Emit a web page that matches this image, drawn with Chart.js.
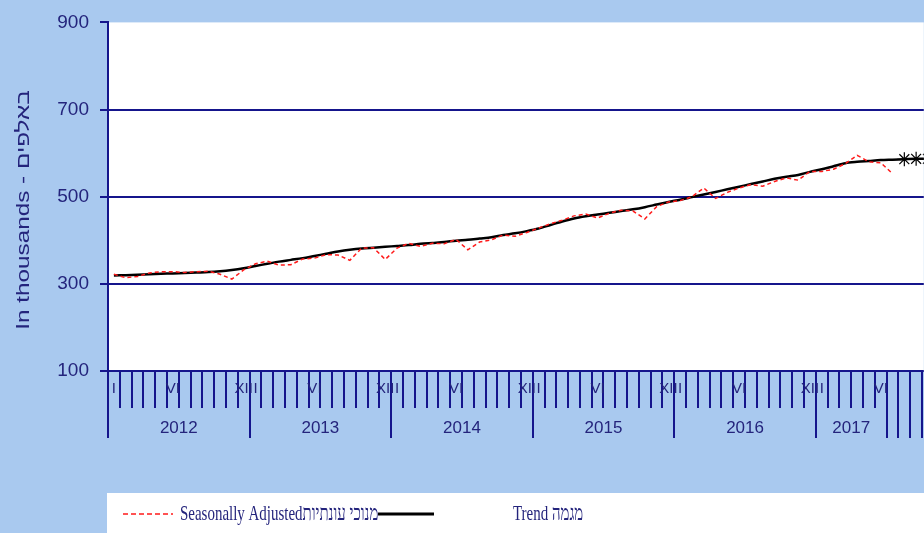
<!DOCTYPE html>
<html>
<head>
<meta charset="utf-8">
<script src="https://cdn.jsdelivr.net/npm/chart.js@4.4.1/dist/chart.umd.min.js"></script>
<style>
  html, body { margin: 0; padding: 0; background: #a9c9ef; overflow: hidden; }
  #wrap { position: relative; width: 924px; height: 533px; overflow: hidden; }
</style>
</head>
<body>
<!-- canvas is a little wider than the window: the star markers reserve 8px on the right -->
<div id="wrap"><canvas id="chart" width="932" height="533"></canvas></div>
<script>
// axis / label data
const years = [2012, 2013, 2014, 2015, 2016, 2017];
const monthsOnAxis = 66;          // Jan 2012 - Jun 2017 carry year labels
const visibleMonths = 69.15;      // the picture is cut off at the right
const monthLabelSlots = [0, 5, 11];
const monthLabels = ["I", "VI", "XII"];
const yTicks = [100, 300, 500, 700, 900];
const yTitle = "In thousands - באלפים";
const legendSeasonal = "Seasonally Adjustedמנוכי עונתיות";
const legendTrend = "Trend מגמה";

// monthly series, Jan 2012 onwards (thousands)
const seasonallyAdjusted = [
  322, 314, 317, 325, 328, 328, 326, 328, 329, 322, 311, 332,
  346, 352, 343, 344, 357, 359, 367, 366, 354, 382, 383, 356,
  382, 393, 386, 393, 392, 402, 378, 396, 401, 412, 409, 418,
  428, 438, 446, 456, 460, 451, 462, 469, 467, 449, 477, 488,
  491, 500, 520, 496, 510, 520, 528, 524, 535, 543, 538, 558,
  558, 563, 576, 595, 580, 578, 553
];
const trend = [
  319, 320, 321, 322, 323, 324, 325, 326, 327, 329, 332, 336,
  341, 346, 351, 355, 359, 364, 369, 374, 378, 381, 383, 385,
  387, 389, 392, 394, 396, 399, 401, 404, 407, 412, 416, 421,
  427, 435, 443, 450, 455, 459, 463, 467, 471, 476, 482, 488,
  493, 499, 505, 511, 517, 523, 529, 535, 541, 546, 550, 557,
  563, 570, 577, 580, 582, 584, 585
];
// trend months drawn with star markers
const trendExtension = [586, 587, 587];

const NAVY = "#15158c";
const TEXT = "#24247c";
const RED = "#ff1a1a";

function toPoints(values) {
  return values.map((v, i) => ({ x: i + 0.5, y: v }));
}

const plotBackground = {
  id: "plotBackground",
  beforeDraw(chart) {
    const { ctx, chartArea: a } = chart;
    ctx.save();
    ctx.fillStyle = "#ffffff";
    ctx.fillRect(a.left, a.top, a.right - a.left, a.bottom - a.top);
    ctx.restore();
  }
};

// month ticks, roman numerals and year bands under the plot
const monthAxis = {
  id: "monthAxis",
  afterDraw(chart) {
    const { ctx, chartArea: a, scales: { x } } = chart;
    ctx.save();
    ctx.strokeStyle = NAVY;
    ctx.lineWidth = 2;
    for (let m = 0; m <= Math.ceil(x.max); m++) {
      const px = Math.round(x.getPixelForValue(m));
      const long = m % 12 === 0 || m >= monthsOnAxis;
      ctx.beginPath();
      ctx.moveTo(px, a.bottom);
      ctx.lineTo(px, a.bottom + (long ? 67 : 37));
      ctx.stroke();
    }
    ctx.fillStyle = TEXT;
    ctx.textAlign = "center";
    ctx.textBaseline = "middle";
    years.forEach((yr, k) => {
      ctx.font = '15px "Liberation Sans", Arial, sans-serif';
      monthLabelSlots.forEach((slot, j) => {
        const m = k * 12 + slot;
        if (m >= monthsOnAxis) return;
        ctx.fillText(monthLabels[j], x.getPixelForValue(m + 0.5), a.bottom + 18);
      });
      const from = k * 12;
      const to = Math.min(from + 12, monthsOnAxis);
      ctx.font = '17px "Liberation Sans", Arial, sans-serif';
      ctx.fillText(String(yr), x.getPixelForValue((from + to) / 2), a.bottom + 57);
    });
    ctx.restore();
  }
};

const yAxisTitle = {
  id: "yAxisTitle",
  afterDraw(chart) {
    const { ctx } = chart;
    ctx.save();
    ctx.translate(24, 210);
    ctx.rotate(-Math.PI / 2);
    ctx.scale(1.35, 1);
    ctx.font = '18px "Liberation Sans", Arial, sans-serif';
    ctx.fillStyle = TEXT;
    ctx.textAlign = "center";
    ctx.textBaseline = "middle";
    ctx.fillText(yTitle, 0, 0);
    ctx.restore();
  }
};

const bottomLegend = {
  id: "bottomLegend",
  afterDraw(chart) {
    const { ctx } = chart;
    const top = 493;
    const lineY = 514;
    ctx.save();
    ctx.fillStyle = "#ffffff";
    ctx.fillRect(107, top, chart.width - 107, chart.height - top);

    ctx.strokeStyle = RED;
    ctx.lineWidth = 1.5;
    ctx.setLineDash([5, 3]);
    ctx.beginPath();
    ctx.moveTo(123, lineY);
    ctx.lineTo(173, lineY);
    ctx.stroke();
    ctx.setLineDash([]);

    ctx.strokeStyle = "#000000";
    ctx.lineWidth = 3;
    ctx.beginPath();
    ctx.moveTo(378, lineY);
    ctx.lineTo(434, lineY);
    ctx.stroke();

    ctx.fillStyle = TEXT;
    ctx.font = '22px "Liberation Serif", "Times New Roman", serif';
    ctx.textAlign = "left";
    ctx.textBaseline = "alphabetic";
    [[legendSeasonal, 180], [legendTrend, 513]].forEach(([label, x0]) => {
      ctx.save();
      ctx.translate(x0, 520);
      ctx.scale(0.68, 1);
      ctx.fillText(label, 0, 0);
      ctx.restore();
    });
    ctx.restore();
  }
};

new Chart(document.getElementById("chart"), {
  type: "line",
  data: {
    datasets: [
      {
        label: "Seasonally Adjusted",
        data: toPoints(seasonallyAdjusted),
        borderColor: RED,
        borderWidth: 1.5,
        borderDash: [4, 3],
        pointRadius: 0,
        tension: 0
      },
      {
        label: "Trend",
        data: toPoints(trend.concat(trendExtension)),
        borderColor: "#000000",
        borderWidth: 2.5,
        tension: 0.3,
        pointStyle: "star",
        pointRadius: c => (c.dataIndex >= trend.length ? 7 : 0),
        pointBorderColor: "#000000",
        pointBorderWidth: 1.2
      }
    ]
  },
  options: {
    responsive: false,
    animation: false,
    layout: { padding: { top: 21, bottom: 162, left: 0, right: 0 } },
    plugins: {
      legend: { display: false },
      tooltip: { enabled: false }
    },
    scales: {
      x: { type: "linear", display: false, min: 0, max: visibleMonths },
      y: {
        min: 100,
        max: 900,
        afterFit(scale) { scale.width = 108; },
        afterBuildTicks(scale) { scale.ticks = yTicks.map(v => ({ value: v })); },
        ticks: {
          color: TEXT,
          padding: 11,
          font: { family: '"Liberation Sans", Arial, sans-serif', size: 19 }
        },
        grid: {
          color: c => (c.tick && c.tick.value === 900 ? "rgba(0,0,0,0)" : NAVY),
          tickColor: NAVY,
          lineWidth: 2,
          tickLength: 8
        },
        border: { color: NAVY, width: 2 }
      }
    }
  },
  plugins: [plotBackground, monthAxis, yAxisTitle, bottomLegend]
});
</script>
</body>
</html>
